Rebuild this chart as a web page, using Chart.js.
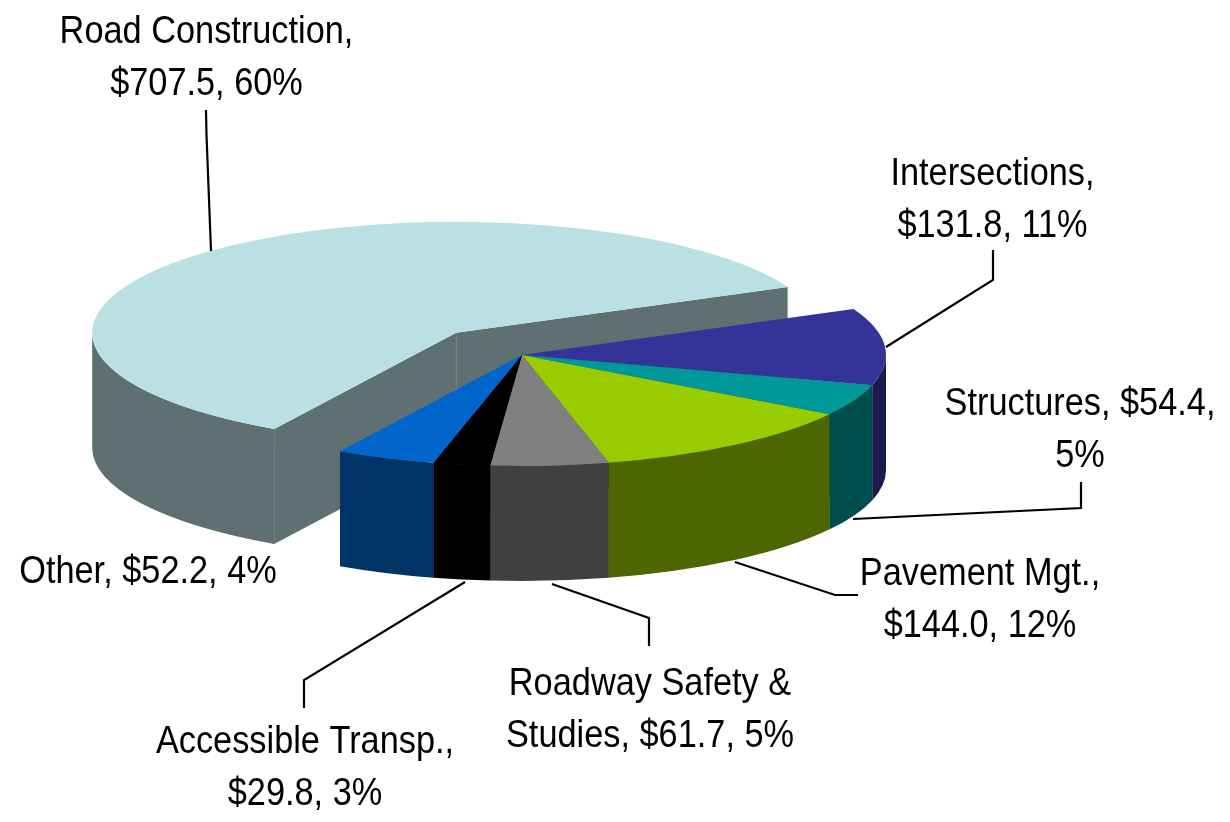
<!DOCTYPE html>
<html><head><meta charset="utf-8">
<style>html,body{margin:0;padding:0;background:#fff}#box{width:1230px;height:822px;position:relative}</style>
<script src="https://cdn.jsdelivr.net/npm/chart.js@4"></script>
</head><body><div id="box"><canvas id="c"></canvas></div>
<script>
const categories = ["Road Construction","Intersections","Structures","Pavement Mgt.","Roadway Safety & Studies","Accessible Transp.","Other"];
const values = [707.5,131.8,54.4,144.0,61.7,29.8,52.2];
const topColors = ["#BBE0E3","#333399","#009999","#99CC00","#808080","#000000","#0066CC"];
const sideColors = ["#5E7072","#1A1A4D","#004D4D","#4D6600","#404040","#000000","#003366"];
const explode = [98,0,0,0,0,0,0];
const labelLines = [
 ["Road Construction,","$707.5, 60%"],
 ["Intersections,","$131.8, 11%"],
 ["Structures, $54.4,","5%"],
 ["Pavement Mgt.,","$144.0, 12%"],
 ["Roadway Safety &","Studies, $61.7, 5%"],
 ["Accessible Transp.,","$29.8, 3%"],
 ["Other, $52.2, 4%"]
];
// label layout: centre x, first baseline
const labelAnchors = [[206.5,43],[992.5,185],[1080,415],[980,585],[650,695],[305,753],[148,583]];
const leaders = [
 [[206,110],[206.5,135],[211,251]],
 [[993,250],[993,280],[886,347]],
 [[1081,482],[1081,508],[853,519]],
 [[735,562],[835,595],[858,595]],
 [[552,584],[649,618],[649,646]],
 [[465,582],[304,680],[304,708]],
 []
];
const tilt = 0.305, depth = 115;

const pie3d = {
  id:'pie3d',
  beforeDatasetDraw(chart,args){
    const ctx = chart.ctx, arcs = chart.getDatasetMeta(args.index).data;
    const info = arcs.map((a,i)=>{
      const mid=(a.startAngle+a.endAngle)/2;
      return {a,i,cx:a.x+Math.cos(mid)*explode[i],cy:a.y+Math.sin(mid)*explode[i]*tilt,
              rx:a.outerRadius,ry:a.outerRadius*tilt};
    });
    const px=(o,t)=>[o.cx+Math.cos(t)*o.rx,o.cy+Math.sin(t)*o.ry];
    // flat cut faces
    info.forEach(o=>{
      [[o.a.startAngle,-Math.PI/2],[o.a.endAngle,Math.PI/2]].forEach(([t,n])=>{
        if(Math.sin(t+n)<=0) return;
        const p=px(o,t);
        ctx.beginPath();ctx.moveTo(o.cx,o.cy);ctx.lineTo(p[0],p[1]);ctx.lineTo(p[0],p[1]+depth);ctx.lineTo(o.cx,o.cy+depth);ctx.closePath();
        ctx.fillStyle=sideColors[o.i];ctx.fill();
      });
    });
    // seams of the exploded slice
    const big=info[0], edge=px(big,big.a.startAngle);
    ctx.strokeStyle='#6F8082';ctx.lineWidth=1;
    ctx.beginPath();ctx.moveTo(big.cx,big.cy);ctx.lineTo(big.cx,big.cy+depth);ctx.moveTo(edge[0],edge[1]);ctx.lineTo(edge[0],edge[1]+depth);ctx.stroke();
    // curved outer walls
    info.forEach(o=>{
      for(let k=0;k<2;k++){
        const lo=Math.max(o.a.startAngle,2*Math.PI*k), hi=Math.min(o.a.endAngle,Math.PI+2*Math.PI*k);
        if(hi<=lo) continue;
        ctx.beginPath();
        ctx.ellipse(o.cx,o.cy,o.rx,o.ry,0,lo,hi);
        ctx.ellipse(o.cx,o.cy+depth,o.rx,o.ry,0,hi,lo,true);
        ctx.closePath();ctx.fillStyle=sideColors[o.i];ctx.fill();
      }
    });
    // top faces: the library's own arcs under a squash transform
    info.forEach(o=>{
      ctx.save();
      ctx.translate(o.cx,o.cy);ctx.scale(1,tilt);ctx.translate(-o.a.x,-o.a.y);
      o.a.draw(ctx);
      ctx.restore();
    });
    return false;
  },
  afterDraw(chart){
    const ctx=chart.ctx;
    ctx.save();
    ctx.strokeStyle='#000';ctx.lineWidth=2.2;ctx.lineJoin='miter';
    leaders.forEach(l=>{
      if(!l.length) return;
      ctx.beginPath();l.forEach((p,i)=>i?ctx.lineTo(p[0],p[1]):ctx.moveTo(p[0],p[1]));ctx.stroke();
    });
    ctx.fillStyle='#000';ctx.font='39px "Liberation Sans"';ctx.textAlign='center';ctx.textBaseline='alphabetic';
    labelLines.forEach((lines,i)=>{
      lines.forEach((t,j)=>{
        ctx.save();
        ctx.translate(labelAnchors[i][0],labelAnchors[i][1]+j*52);
        ctx.scale(0.88,1);
        ctx.fillText(t,0,0);
        ctx.restore();
      });
    });
    ctx.restore();
  }
};

new Chart(document.getElementById('c'),{
  type:'pie',
  data:{labels:categories,datasets:[{data:values,backgroundColor:topColors,borderWidth:0,clip:false}]},
  options:{
    responsive:true,maintainAspectRatio:false,animation:false,events:[],
    rotation:210,radius:364,
    layout:{padding:{left:0,top:0,right:186,bottom:112}},
    plugins:{legend:{display:false},tooltip:{enabled:false}}
  },
  plugins:[pie3d]
});
</script></body></html>
